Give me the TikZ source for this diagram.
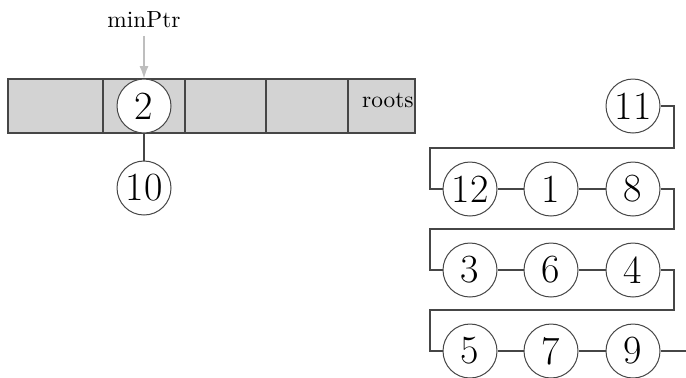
\documentclass[tikz,border=0pt]{standalone}
\usetikzlibrary{arrows.meta}
\def\pxu{0.45pt}
\definecolor{cellfill}{RGB}{211,211,211}
\definecolor{edgegray}{RGB}{70,70,70}
\definecolor{ptrgray}{RGB}{190,190,190}
\tikzset{
  cell/.style={rectangle, draw=edgegray, fill=cellfill, inner sep=0pt,
    minimum height=54*\pxu, line width=0.5pt},
  key/.style={circle, draw=edgegray, fill=white, inner sep=0pt,
    minimum size=54*\pxu, font=\fontsize{18}{20}\selectfont, line width=0.45pt},
  link/.style={draw=edgegray, line width=0.5pt},
  ptr/.style={draw=ptrgray, line width=0.6pt, -{Latex[length=5.5pt,width=4pt]}}
}
\begin{document}
\begin{tikzpicture}[x=\pxu, y=-\pxu]
\useasboundingbox (0,0) rectangle (686,377);

% root array
\node[cell, minimum width=95*\pxu] (c1) at (55.5,106) {};
\node[cell, minimum width=82*\pxu] (c2) at (144,106) {};
\node[cell, minimum width=81*\pxu] (c3) at (225.5,106) {};
\node[cell, minimum width=82*\pxu] (c4) at (307,106) {};
\node[cell, minimum width=67*\pxu] (c5) at (381.5,106) {};
\node[anchor=base east, inner sep=0pt, font=\fontsize{10.5}{12}\selectfont] (roots) at (414,107) {roots};

% min pointer and its tree
\node[font=\fontsize{10.5}{12}\selectfont] (minptr) at (144,20) {minPtr};
\node[key] (n2) at (144,106) {2};
\node[key] (n10) at (144,188) {10};
\draw[ptr] (minptr.south) -- (c2.north);
\draw[link] (n2) -- (n10);

% list of remaining roots
\node[key] (n11) at (633,106) {11};
\node[key] (n12) at (470,189) {12};
\node[key] (n1)  at (551,189) {1};
\node[key] (n8)  at (633,189) {8};
\node[key] (n3)  at (470,270) {3};
\node[key] (n6)  at (551,270) {6};
\node[key] (n4)  at (633,270) {4};
\node[key] (n5)  at (470,351) {5};
\node[key] (n7)  at (551,351) {7};
\node[key] (n9)  at (633,351) {9};
\coordinate (tail) at (686,351);

\draw[link] (n11.east) -- (674,106) |- (430,148) |- (n12.west);
\draw[link] (n12) -- (n1);
\draw[link] (n1) -- (n8);
\draw[link] (n8.east) -- (674,189) |- (430,229) |- (n3.west);
\draw[link] (n3) -- (n6);
\draw[link] (n6) -- (n4);
\draw[link] (n4.east) -- (674,270) |- (430,310) |- (n5.west);
\draw[link] (n5) -- (n7);
\draw[link] (n7) -- (n9);
\draw[link] (n9.east) -- (tail);
\end{tikzpicture}
\end{document}
